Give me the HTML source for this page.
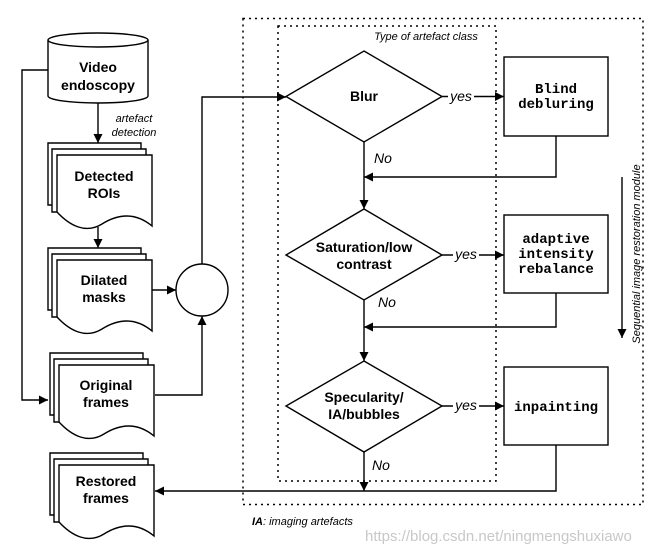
<!DOCTYPE html>
<html><head><meta charset="utf-8"><style>
html,body{margin:0;padding:0;background:#fff;}
svg{display:block;}
.b{font-family:"Liberation Sans",sans-serif;font-weight:bold;font-size:14px;fill:#000;}
.i{font-family:"Liberation Sans",sans-serif;font-style:italic;font-size:11px;fill:#000;}
.m{font-family:"Liberation Mono",monospace;font-weight:bold;font-size:14px;fill:#000;}
</style></head><body>
<svg width="657" height="551" viewBox="0 0 657 551" xmlns="http://www.w3.org/2000/svg">
<defs>
<marker id="a" viewBox="0 0 10 10" refX="10" refY="5" markerWidth="9" markerHeight="9" orient="auto" markerUnits="userSpaceOnUse"><path d="M0,0 L10,5 L0,10 Z" fill="#000"/></marker>
</defs>
<g fill="none" stroke="#000" stroke-width="1.3">
<rect x="243" y="18.5" width="400" height="486" stroke-dasharray="2,4" stroke-width="1.5"/>
<rect x="278" y="26" width="218" height="455" stroke-dasharray="2,4" stroke-width="1.5"/>
</g>
<g fill="#fff" stroke="#000" stroke-width="1.4">
<path d="M48,40 V96 A50,7 0 0 0 148,96 V40"/>
<ellipse cx="98" cy="40" rx="50" ry="7"/>
<g>
<path d="M48,143 H141 V205 H48 Z"/>
<path d="M52,149 H146 V212 H52 Z"/>
<path d="M57,155 H152 V226 C135,212 118,214 102,224 C86,234 70,226 57,212 Z"/>
</g>
<g transform="translate(0,105)">
<path d="M48,143 H141 V205 H48 Z"/>
<path d="M52,149 H146 V212 H52 Z"/>
<path d="M57,155 H152 V226 C135,212 118,214 102,224 C86,234 70,226 57,212 Z"/>
</g>
<g transform="translate(2,210)">
<path d="M48,143 H141 V205 H48 Z"/>
<path d="M52,149 H146 V212 H52 Z"/>
<path d="M57,155 H152 V226 C135,212 118,214 102,224 C86,234 70,226 57,212 Z"/>
</g>
<g transform="translate(2,310)">
<path d="M48,143 H141 V205 H48 Z"/>
<path d="M52,149 H146 V212 H52 Z"/>
<path d="M57,155 H152 V226 C135,212 118,214 102,224 C86,234 70,226 57,212 Z"/>
</g>
<circle cx="202" cy="290" r="26"/>
<path d="M364,51 L442,96.5 L364,142 L286,96.5 Z"/>
<path d="M364,209 L442,255 L364,300 L286,255 Z"/>
<path d="M364,361 L442,406 L364,452 L286,406 Z"/>
<rect x="504" y="57" width="104" height="79"/>
<rect x="504" y="215" width="104" height="78"/>
<rect x="504" y="367" width="104" height="78"/>
</g>
<g fill="none" stroke="#000" stroke-width="1.4">
<path d="M98,103 V143" marker-end="url(#a)"/>
<path d="M98,227 V248" marker-end="url(#a)"/>
<path d="M48,70 H22 V400 H48" marker-end="url(#a)"/>
<path d="M152,290 H176" marker-end="url(#a)"/>
<path d="M155,395 H202 V316" marker-end="url(#a)"/>
<path d="M202,264 V97 H286" marker-end="url(#a)"/>
<path d="M442,96.5 H504" marker-end="url(#a)"/>
<path d="M442,255 H504" marker-end="url(#a)"/>
<path d="M442,406 H504" marker-end="url(#a)"/>
<path d="M364,142 V209" marker-end="url(#a)"/>
<path d="M364,300 V361" marker-end="url(#a)"/>
<path d="M364,452 V491" marker-end="url(#a)"/>
<path d="M556,136 V177 H364" marker-end="url(#a)"/>
<path d="M556,293 V327 H364" marker-end="url(#a)"/>
<path d="M556,445 V491 H155" marker-end="url(#a)"/>
<path d="M622,177 V338" marker-end="url(#a)"/>
</g>
<rect x="448" y="88" width="26" height="16" fill="#fff"/>
<rect x="453" y="246" width="26" height="16" fill="#fff"/>
<rect x="453" y="397" width="26" height="16" fill="#fff"/>
<g text-anchor="middle">
<text class="b" x="98" y="72">Video</text>
<text class="b" x="98" y="90">endoscopy</text>
<text class="i" x="134" y="122">artefact</text>
<text class="i" x="134" y="136">detection</text>
<text class="b" x="104" y="181">Detected</text>
<text class="b" x="104" y="198">ROIs</text>
<text class="b" x="104" y="285">Dilated</text>
<text class="b" x="104" y="302">masks</text>
<text class="b" x="106" y="390">Original</text>
<text class="b" x="106" y="407">frames</text>
<text class="b" x="106" y="486">Restored</text>
<text class="b" x="106" y="503">frames</text>
<text class="i" x="426" y="40">Type of artefact class</text>
<text class="b" x="364" y="101">Blur</text>
<text class="b" x="364" y="252">Saturation/low</text>
<text class="b" x="364" y="269">contrast</text>
<text class="b" x="364" y="402">Specularity/</text>
<text class="b" x="364" y="419">IA/bubbles</text>
<text class="m" x="556" y="93">Blind</text>
<text class="m" x="556" y="108">debluring</text>
<text class="m" x="556" y="243">adaptive</text>
<text class="m" x="556" y="258">intensity</text>
<text class="m" x="556" y="273">rebalance</text>
<text class="m" x="556" y="411">inpainting</text>
<text class="i" x="461" y="101" style="font-size:14px">yes</text>
<text class="i" x="466" y="259" style="font-size:14px">yes</text>
<text class="i" x="466" y="410" style="font-size:14px">yes</text>
<text class="i" x="637" y="254" transform="rotate(-90 637 254)" dominant-baseline="middle">Sequential image restoration module</text>
</g>
<text class="i" x="374" y="163" style="font-size:14px">No</text>
<text class="i" x="378" y="307" style="font-size:14px">No</text>
<text class="i" x="372" y="470" style="font-size:14px">No</text>
<text class="i" x="252" y="525"><tspan font-weight="bold">IA</tspan>: imaging artefacts</text>
<text x="365" y="541" font-family="Liberation Sans,sans-serif" font-size="15" fill="#c8c8c8">https://blog.csdn.net/ningmengshuxiawo</text>
</svg>
</body></html>
